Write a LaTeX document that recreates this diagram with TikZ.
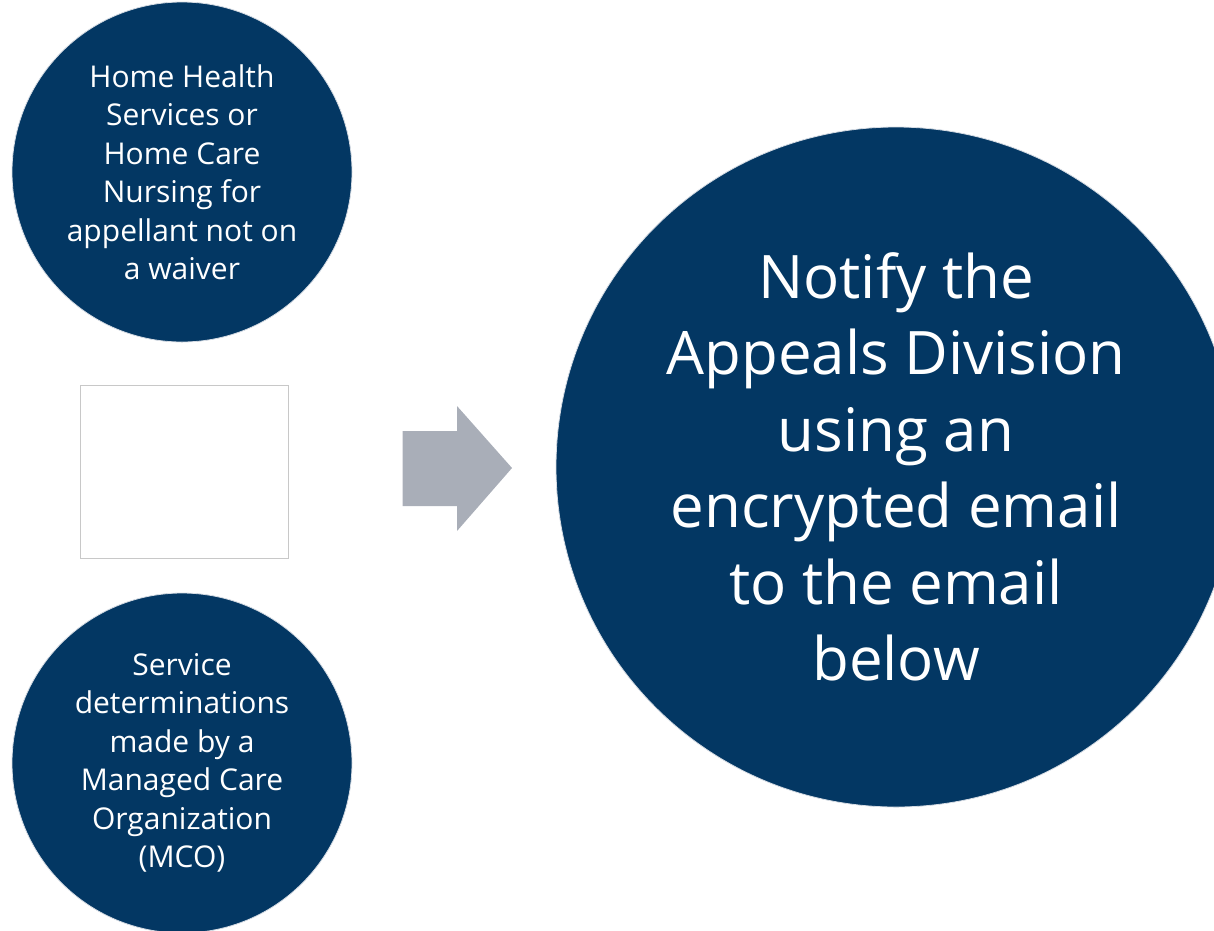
\documentclass[tikz,border=0pt]{standalone}
\usepackage{fontspec}
\setmainfont{Open Sans}
\begin{document}
\begin{tikzpicture}[x=1pt,y=-1pt,
  navy/.style={circle, fill=navyfill, draw=rimgray, line width=0.8pt,
    inner sep=0pt, text=white, align=center},
  smalltext/.style={font=\fontsize{30}{38.5}\selectfont},
  bigtext/.style={font=\fontsize{60}{76.5}\selectfont}]
\definecolor{navyfill}{HTML}{033763}
\definecolor{rimgray}{HTML}{D6DCE4}
\definecolor{arrowgray}{HTML}{A9AEB8}
\definecolor{boxgray}{HTML}{C8C8C8}
\useasboundingbox (0,0) rectangle (1214,930);
\clip (0,0) rectangle (1214,930);

% left-hand case circles
\node[navy, smalltext, minimum size=340pt] (home) at (182,172)
  {Home Health\\Services or\\Home Care\\Nursing for\\appellant not on\\a waiver};
\node[navy, smalltext, minimum size=340pt] (mco) at (182,763)
  {Service\\determinations\\made by a\\Managed Care\\Organization\\(MCO)};

% empty placeholder box between the circles
\node[draw=boxgray, line width=0.8pt, fill=white, minimum width=208pt,
  minimum height=173pt, inner sep=0pt] (blank) at (184.5,471.5) {};

% block arrow pointing to the action circle
\fill[arrowgray] (402.5,431) -- (457,431) -- (457,406) -- (512,468)
  -- (457,531) -- (457,506) -- (402.5,506) -- cycle;

% action circle
\node[navy, bigtext, minimum size=680pt] (notify) at (896,467)
  {Notify the\\Appeals Division\\using an\\encrypted email\\to the email\\below};
\end{tikzpicture}
\end{document}
